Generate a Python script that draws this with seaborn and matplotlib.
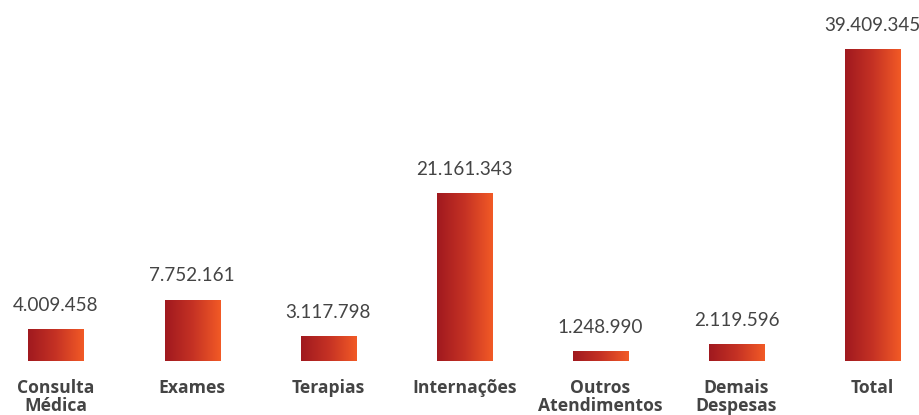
import numpy as np
import pandas as pd
import matplotlib
matplotlib.use("Agg")
import matplotlib.pyplot as plt
from matplotlib.colors import LinearSegmentedColormap
import seaborn as sns

categories = ["Consulta\nMédica", "Exames", "Terapias", "Internações",
              "Outros\nAtendimentos", "Demais\nDespesas", "Total"]
values = [4009458, 7752161, 3117798, 21161343, 1248990, 2119596, 39409345]
value_labels = ["4.009.458", "7.752.161", "3.117.798", "21.161.343",
                "1.248.990", "2.119.596", "39.409.345"]

sns.set_theme(style="white")
plt.rcParams["font.family"] = ["Lato", "DejaVu Sans"]

df = pd.DataFrame({"categoria": categories, "valor": values})

fig = plt.figure(figsize=(9.19, 4.15), dpi=100)
ax = fig.add_axes([0.0, 1 - 361 / 415, 1.0, 361 / 415])

sns.barplot(data=df, x="categoria", y="valor", ax=ax, width=0.405,
            color="#c0301f", saturation=1, edgecolor="none")

grad = LinearSegmentedColormap.from_list("rg", ["#a0191f", "#c53224", "#f25a26"])
gimg = np.linspace(0, 1, 256).reshape(1, -1)
for patch in ax.patches:
    x0, y0 = patch.get_x(), patch.get_y()
    w, h = patch.get_width(), patch.get_height()
    im = ax.imshow(gimg, cmap=grad, aspect="auto",
                   extent=(x0, x0 + w, y0, y0 + h), zorder=patch.get_zorder() + 0.1,
                   interpolation="bicubic")
    im.set_clip_path(patch)

for i, (v, lab) in enumerate(zip(values, value_labels)):
    ax.annotate(lab, (i, v), xytext=(0, 11), textcoords="offset points",
                ha="center", va="bottom", fontsize=13.6, color="#444444")

ax.set_xlim(-56 / 136.1, (919 - 56) / 136.1)
ax.set_ylim(0, 39409345 * 361 / 312)
ax.set_xlabel("")
ax.set_ylabel("")
ax.set_yticks([])
ax.set_xticks(range(len(categories)))
ax.set_xticklabels(categories, fontsize=12.6, color="#444444",
                   family=["Open Sans", "DejaVu Sans"], weight="bold",
                   linespacing=0.98, va="top")
ax.tick_params(axis="x", length=0, pad=13)
sns.despine(ax=ax, left=True, bottom=True, top=True, right=True)
ax.set_facecolor("white")

fig.savefig("out.png", dpi=100, facecolor="white")
